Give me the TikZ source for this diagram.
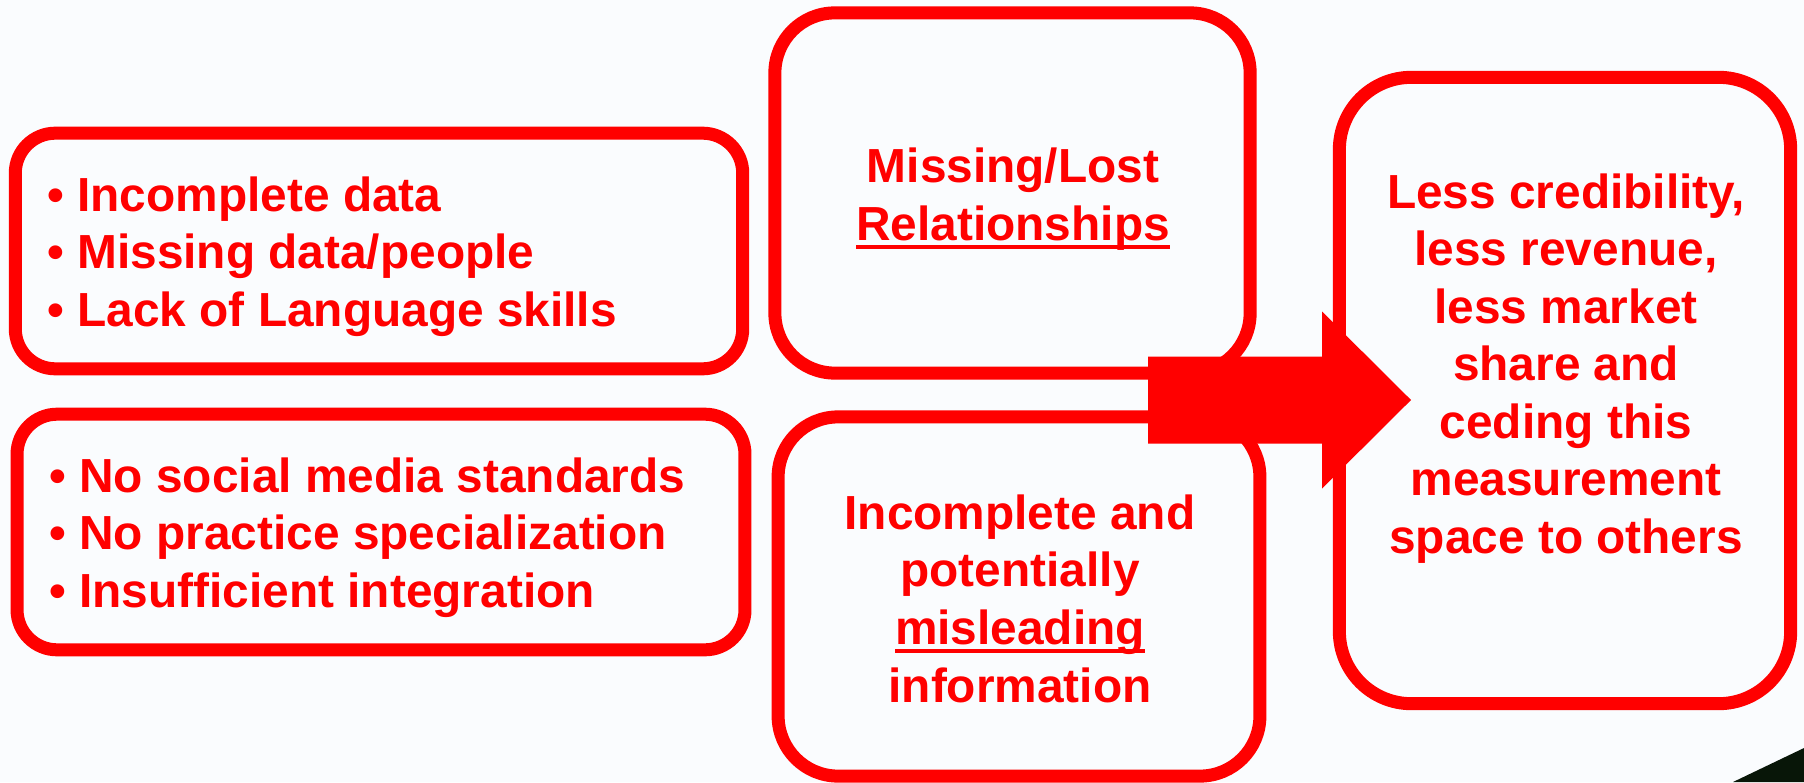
\documentclass[tikz,border=0pt]{standalone}
\usepackage{fontspec}
\setmainfont{Liberation Sans}
\definecolor{boxred}{RGB}{255,0,0}
\definecolor{paper}{RGB}{250,252,254}
\definecolor{cornerdark}{RGB}{8,22,8}
\newcommand{\ulword}[1]{\setbox0=\hbox{#1}\rlap{\rule[-2.5pt]{\wd0}{1.2pt}}\box0}

\begin{document}
\begin{tikzpicture}[x=0.01cm,y=-0.01cm]
            \useasboundingbox (0,0) rectangle (1804,782);
            \fill[paper] (0,0) rectangle (1804,782);
            \fill[cornerdark] (1733,782) -- (1804,748) -- (1804,782) -- cycle;
            \begin{scope}[every node/.style={draw=boxred,line width=0.13cm,inner sep=0pt}]
                \node[rounded corners=0.4cm,minimum width=7.27cm,minimum height=2.355cm] (issues) at (379,251) {};
                \node[rounded corners=0.4cm,minimum width=7.275cm,minimum height=2.355cm] (gaps) at (381,532) {};
                \node[rounded corners=0.6cm,minimum width=4.75cm,minimum height=3.6cm] (lostrel) at (1012.5,193) {};
                \node[rounded corners=0.6cm,minimum width=4.815cm,minimum height=3.59cm] (misinfo) at (1019,596.5) {};
                \node[rounded corners=0.72cm,minimum width=4.51cm,minimum height=6.26cm] (impact) at (1565,390.5) {};
            \end{scope}
            \begin{scope}[every node/.style={text=boxred,inner sep=0pt,font=\fontsize{13.6}{16.36}\selectfont\bfseries}]
                \node[align=left,anchor=west] (issues-text) at (46.6,256.3)
                    {\textbullet\ Incomplete data\\ \textbullet\ Missing data/people\\ \textbullet\ Lack of Language skills};
                \node[align=left,anchor=west] (gaps-text) at (48.6,537.3)
                    {\textbullet\ No social media standards\\ \textbullet\ No practice specialization\\ \textbullet\ Insufficient integration};
                \node[align=center] (lostrel-text) at (1013,199.2)
                    {Missing/Lost\\ \ulword{Relationships}};
                \node[align=center] (misinfo-text) at (1020,598.6)
                    {Incomplete and\\ potentially\\ \ulword{misleading}\\ information};
                \node[align=center] (impact-text) at (1566,368.3)
                    {Less credibility,\\ less revenue,\\ less market\\ share and\\ ceding this\\ measurement\\ space to others};
            \end{scope}
            \coordinate (tail) at (1148,400);
            \coordinate (tip) at (1411,400);
            \fill[boxred] (tail) ++(0,-43.5) -- ++(174,0) -- ++(0,-45) -- (tip)
                -- ++(-89,88.5) -- ++(0,-45) -- ++(-174,0) -- cycle;
        \end{tikzpicture}
\end{document}
